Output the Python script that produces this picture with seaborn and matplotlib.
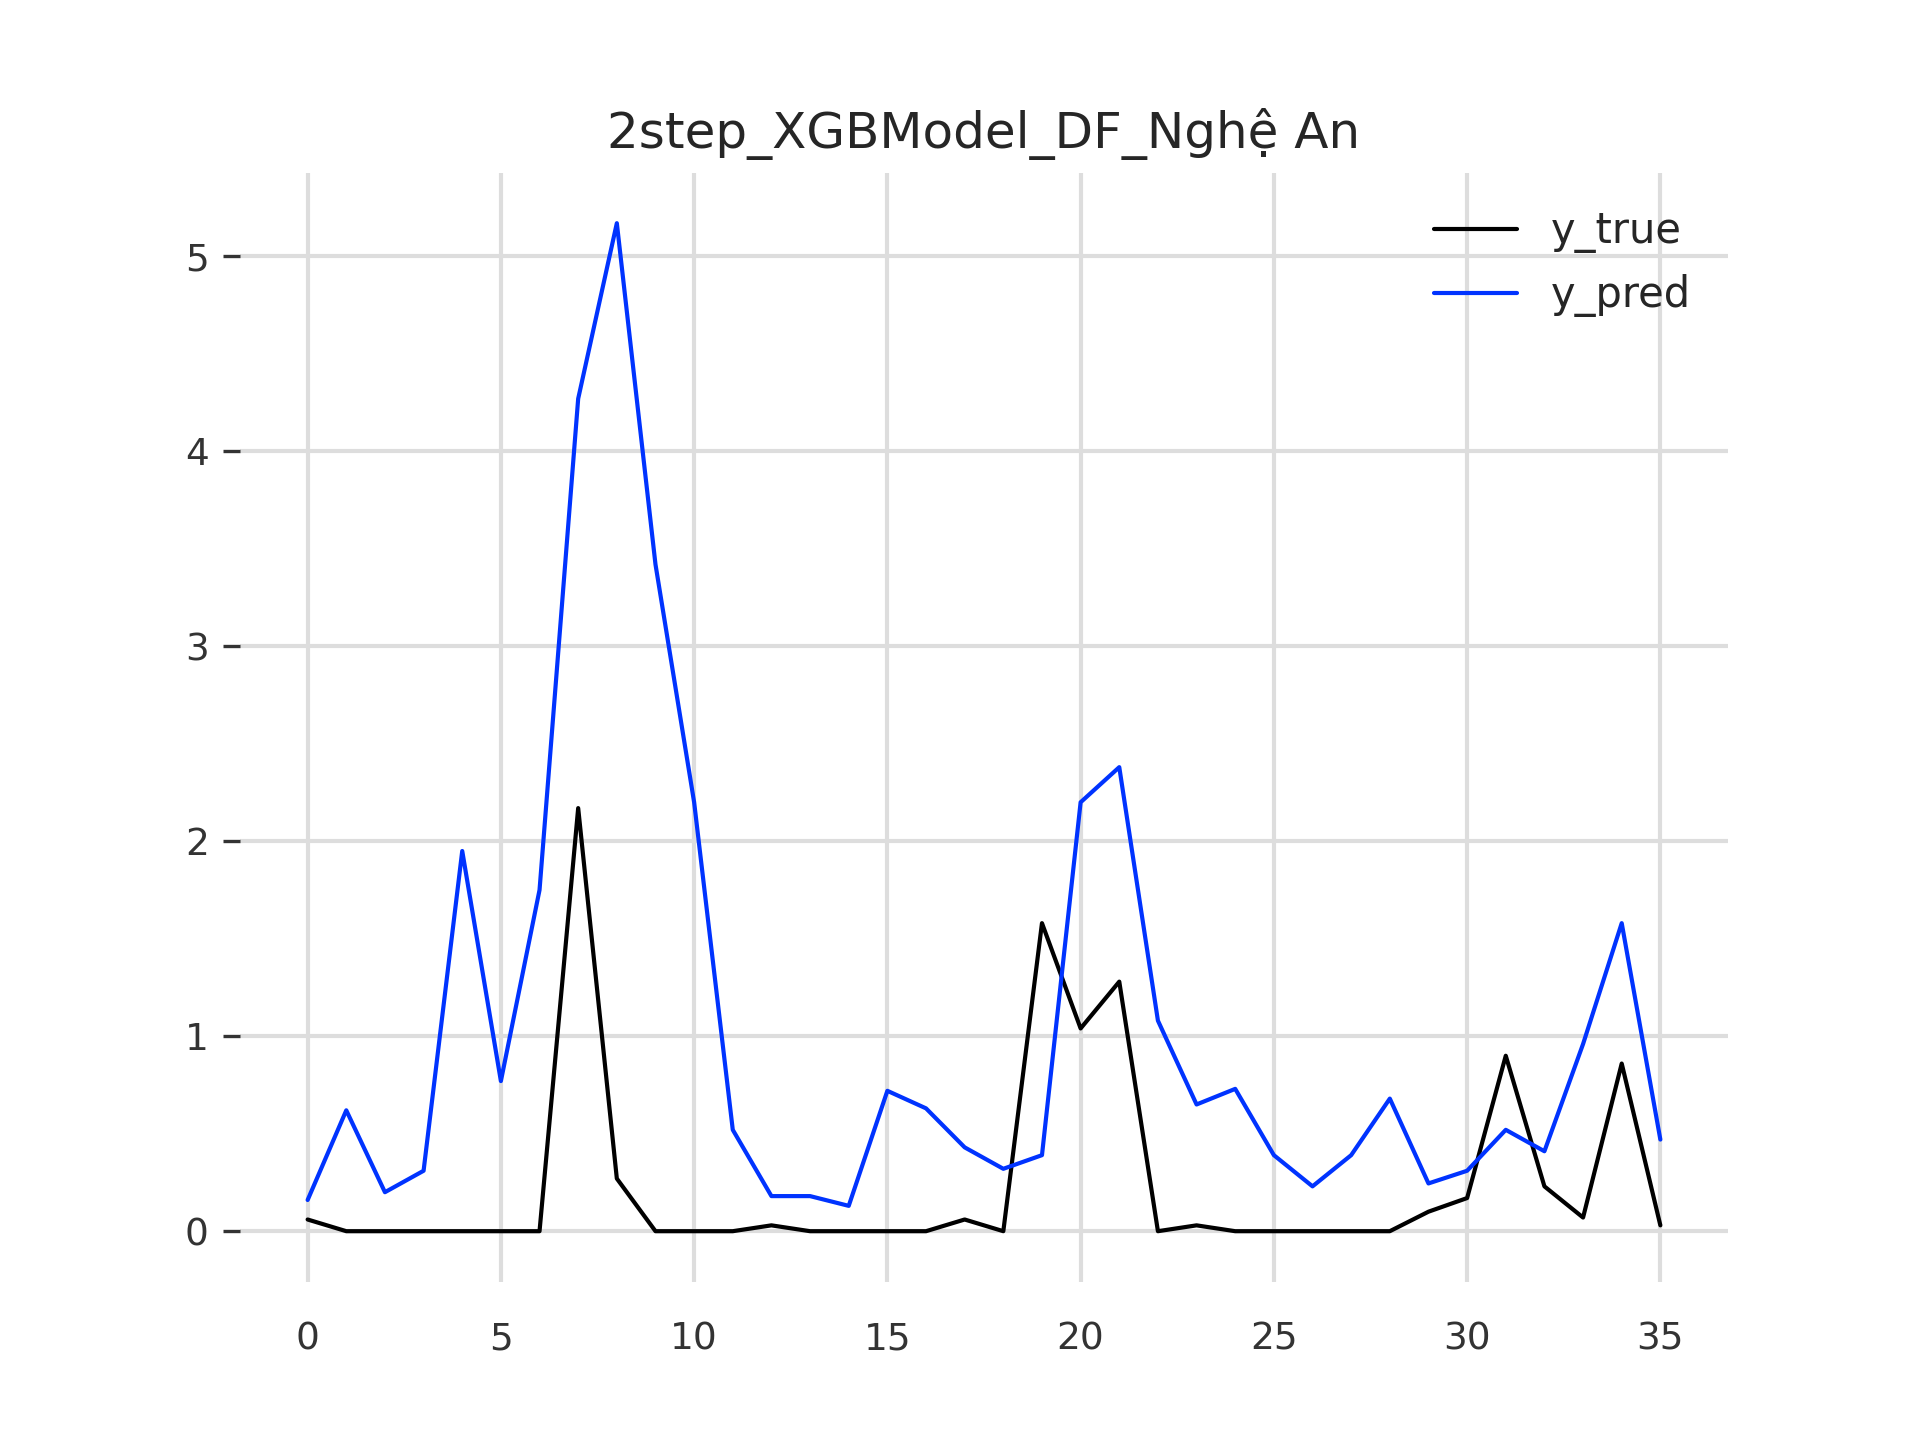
import matplotlib
matplotlib.use("Agg")
import matplotlib.pyplot as plt
import seaborn as sns
import pandas as pd

x = list(range(36))
y_true = [0.06,0,0,0,0,0,0,2.17,0.27,0,0,0,0.03,0,0,0,0,0.06,0,1.58,1.04,1.28,0,0.03,0,0,0,0,0,0.1,0.17,0.9,0.23,0.07,0.86,0.03]
y_pred = [0.16,0.62,0.2,0.31,1.95,0.77,1.75,4.27,5.17,3.42,2.2,0.52,0.18,0.18,0.13,0.72,0.63,0.43,0.32,0.39,2.2,2.38,1.08,0.65,0.73,0.39,0.23,0.39,0.68,0.245,0.31,0.52,0.41,0.96,1.58,0.47]

sns.set_theme(style="whitegrid", rc={"grid.color": "#dddddd", "axes.edgecolor": "white"})
plt.rcParams['font.family'] = ['DejaVu Sans']
fig, ax = plt.subplots(figsize=(6.4, 4.8), dpi=300)
df = pd.DataFrame({"x": x, "y_true": y_true, "y_pred": y_pred})
sns.lineplot(data=df, x="x", y="y_true", color="black", lw=1.0, label="y_true", ax=ax)
sns.lineplot(data=df, x="x", y="y_pred", color="#0033ff", lw=1.0, label="y_pred", ax=ax)
for s in ax.spines.values():
    s.set_visible(False)
ax.set_xlabel("")
ax.set_ylabel("")
ax.set_xticks(range(0, 36, 5))
ax.tick_params(axis="y", left=True, length=4, width=0.8, color="#333333", labelsize=9, labelcolor="#333333")
ax.tick_params(axis="x", bottom=False, labelsize=9, labelcolor="#333333")
ax.set_title("2step_XGBModel_DF_Nghệ An", fontsize=12)
ax.legend(frameon=False, fontsize=10, loc="upper right")
fig.savefig("out.png", dpi=300)
